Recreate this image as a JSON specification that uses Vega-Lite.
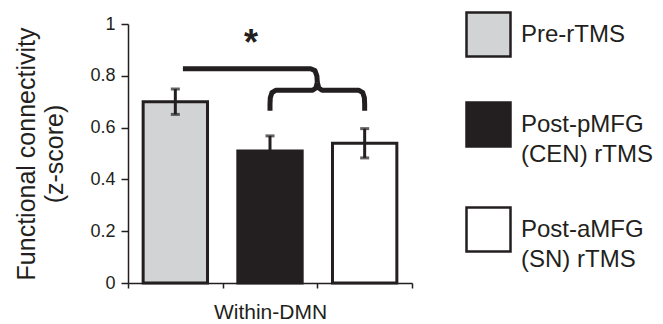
{
  "$schema": "https://vega.github.io/schema/vega-lite/v6.json",
  "autosize": "none",
  "padding": {"left": 128, "top": 24, "right": 251, "bottom": 41},
  "width": 284,
  "height": 259,
  "background": "white",
  "config": {
    "view": {"stroke": null},
    "font": "Liberation Sans",
    "axis": {"grid": false, "domainColor": "#231f20", "tickColor": "#231f20", "labelColor": "#231f20", "titleColor": "#231f20", "domainWidth": 1.5, "tickWidth": 1.5, "titleFontWeight": "normal"}
  },
  "datasets": {
    "bars": [
      {"group": "Pre-rTMS", "value": 0.70, "lo": 0.651, "hi": 0.749},
      {"group": "Post-pMFG (CEN) rTMS", "value": 0.51, "lo": 0.452, "hi": 0.568},
      {"group": "Post-aMFG (SN) rTMS", "value": 0.54, "lo": 0.483, "hi": 0.596}
    ],
    "brace": [
      {"seg": "top", "ord": 1, "x": 0.58, "y": 0.827},
      {"seg": "top", "ord": 2, "x": 1.93, "y": 0.827},
      {"seg": "top", "ord": 3, "x": 1.975, "y": 0.82},
      {"seg": "top", "ord": 4, "x": 1.995, "y": 0.80},
      {"seg": "top", "ord": 5, "x": 2.0, "y": 0.775},
      {"seg": "left", "ord": 1, "x": 2.0, "y": 0.775},
      {"seg": "left", "ord": 2, "x": 1.985, "y": 0.753},
      {"seg": "left", "ord": 3, "x": 1.95, "y": 0.744},
      {"seg": "left", "ord": 4, "x": 1.56, "y": 0.744},
      {"seg": "left", "ord": 5, "x": 1.52, "y": 0.735},
      {"seg": "left", "ord": 6, "x": 1.503, "y": 0.715},
      {"seg": "left", "ord": 7, "x": 1.5, "y": 0.69},
      {"seg": "left", "ord": 8, "x": 1.5, "y": 0.665},
      {"seg": "right", "ord": 1, "x": 2.0, "y": 0.775},
      {"seg": "right", "ord": 2, "x": 2.015, "y": 0.753},
      {"seg": "right", "ord": 3, "x": 2.05, "y": 0.744},
      {"seg": "right", "ord": 4, "x": 2.44, "y": 0.744},
      {"seg": "right", "ord": 5, "x": 2.48, "y": 0.735},
      {"seg": "right", "ord": 6, "x": 2.497, "y": 0.715},
      {"seg": "right", "ord": 7, "x": 2.5, "y": 0.69},
      {"seg": "right", "ord": 8, "x": 2.5, "y": 0.665}
    ],
    "star": [
      {"x": 1.3, "y": 0.88, "label": "*"}
    ]
  },
  "layer": [
    {
      "data": {"name": "bars"},
      "encoding": {
        "x": {"field": "group", "type": "nominal", "sort": null,
              "scale": {"paddingInner": 0, "paddingOuter": 0},
              "axis": {"labels": false, "tickBand": "extent", "tickSize": 5, "title": "Within-DMN", "titleFontSize": 21, "titlePadding": 13}}
      },
      "layer": [
        {
          "mark": {"type": "bar", "width": {"band": 0.68}, "stroke": "#231f20", "strokeWidth": 3},
          "encoding": {
            "y": {"field": "value", "type": "quantitative",
                  "scale": {"domain": [0, 1], "nice": false},
                  "axis": {"values": [0, 0.2, 0.4, 0.6, 0.8, 1], "format": ".1~f", "labelFontSize": 18, "tickSize": 7, "labelPadding": 6,
                           "title": ["Functional connectivity", "(z-score)"], "titleFontSize": 25, "titleLineHeight": 28, "titlePadding": 22}},
            "fill": {"field": "group", "type": "nominal", "sort": null,
                     "scale": {"domain": ["Pre-rTMS", "Post-pMFG (CEN) rTMS", "Post-aMFG (SN) rTMS"], "range": ["#d1d3d4", "#231f20", "#ffffff"]},
                     "legend": {"orient": "none", "legendX": 337, "legendY": -13, "title": null, "padding": 0,
                                "symbolType": "square", "symbolSize": 1936, "symbolStrokeColor": "#231f20", "symbolStrokeWidth": 2.5, "symbolOpacity": 1,
                                "labelFontSize": 24, "labelColor": "#231f20", "labelOffset": 9, "labelLimit": 300, "rowPadding": 35,
                                "labelExpr": "split(replace(datum.label, ' (', '|('), '|')",
                                "encode": {"labels": {"update": {"lineHeight": {"value": 30}}}}}}
          }
        },
        {
          "mark": {"type": "rule", "color": "#231f20", "strokeWidth": 3},
          "encoding": {
            "y": {"field": "lo", "type": "quantitative"},
            "y2": {"field": "hi"}
          }
        },
        {
          "mark": {"type": "tick", "color": "#231f20", "size": 9, "thickness": 3},
          "encoding": {
            "y": {"field": "lo", "type": "quantitative"}
          }
        },
        {
          "mark": {"type": "tick", "color": "#231f20", "size": 9, "thickness": 3},
          "encoding": {
            "y": {"field": "hi", "type": "quantitative"}
          }
        }
      ]
    },
    {
      "encoding": {
        "x": {"field": "x", "type": "quantitative", "scale": {"domain": [0, 3], "nice": false, "zero": false}, "axis": null}
      },
      "layer": [
        {
          "data": {"name": "brace"},
          "mark": {"type": "line", "color": "#231f20", "strokeWidth": 5, "strokeJoin": "round"},
          "encoding": {
            "y": {"field": "y", "type": "quantitative"},
            "detail": {"field": "seg"},
            "order": {"field": "ord"}
          }
        },
        {
          "data": {"name": "star"},
          "mark": {"type": "text", "fontSize": 36, "fontWeight": "bold", "color": "#231f20", "baseline": "alphabetic", "align": "center"},
          "encoding": {
            "y": {"field": "y", "type": "quantitative"},
            "text": {"field": "label"}
          }
        }
      ]
    }
  ],
  "resolve": {"scale": {"x": "independent"}}
}
